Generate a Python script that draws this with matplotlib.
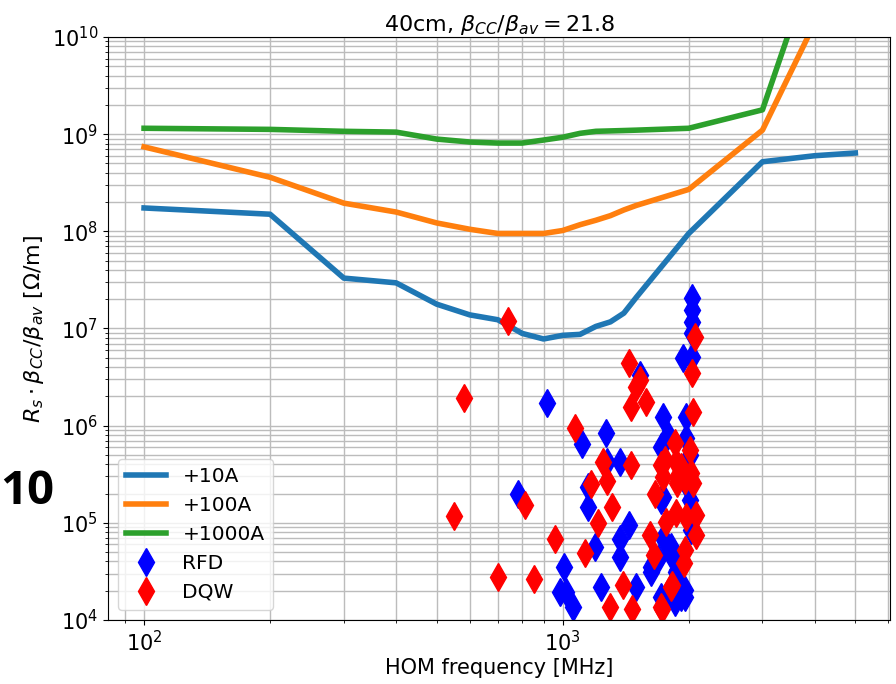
import matplotlib
matplotlib.use('Agg')
import matplotlib.pyplot as plt

# impedance thresholds vs HOM frequency
freq = [100, 200, 300, 400, 500, 600, 700, 800, 900, 1000, 1100, 1200, 1300, 1400, 1500, 2000, 3000, 4000, 5000]
lim_10A = [1.74e8, 1.5e8, 3.3e7, 2.95e7, 1.78e7, 1.38e7, 1.23e7, 8.9e6, 7.8e6, 8.5e6, 8.7e6, 1.05e7, 1.17e7, 1.44e7, 2.1e7,
           9.5e7, 5.2e8, 6.0e8, 6.4e8]
lim_100A = [7.4e8, 3.6e8, 1.95e8, 1.58e8, 1.22e8, 1.05e8, 9.5e7, 9.5e7, 9.5e7, 1.02e8, 1.17e8, 1.3e8, 1.45e8, 1.66e8, 1.85e8,
            2.7e8, 1.1e9, 1.4e10, 6e10]
lim_1000A = [1.15e9, 1.12e9, 1.07e9, 1.05e9, 8.9e8, 8.3e8, 8.1e8, 8.1e8, 8.7e8, 9.3e8, 1.02e9, 1.07e9, 1.08e9, 1.09e9, 1.1e9,
             1.15e9, 1.78e9, 6.6e10, 1e11]

# RFD modes
rfd_f = [916, 781, 1110, 1267, 1367, 1279, 1148, 1148, 1437, 1367, 1192, 1367, 1005, 984, 1016, 1056, 1233, 1494,
         1527, 1733, 1966, 1780, 1714, 1966, 2032, 2032, 2032, 2032, 1933, 2032, 2009, 1988, 2009, 1714, 1733, 1810,
         1850, 1623, 1880, 1880, 1955, 1714, 1913, 2009, 2020, 1800, 1860, 1733, 1623, 1850, 1955, 1690]
rfd_r = [1.72e6, 2.0e5, 6.4e5, 8.4e5, 4.2e5, 4.2e5, 2.34e5, 1.45e5, 9.5e4, 6.8e4, 5.6e4, 4.4e4, 3.5e4, 1.95e4, 1.95e4,
         1.35e4, 2.2e4, 2.2e4, 3.3e6, 1.23e6, 1.23e6, 8.0e5, 6.0e5, 7.5e5, 2.07e7, 1.55e7, 1.17e7, 9.0e6, 5.0e6, 5.1e6,
         5.0e5, 2.34e5, 1.72e5, 1.72e5, 7.0e4, 5.6e4, 4.4e4, 3.1e4, 3.3e4, 2.6e4, 2.05e4, 1.73e4, 1.73e4, 2.64e5,
         8.5e4, 4.9e4, 3.1e4, 1.85e5, 3.5e4, 1.54e4, 1.73e4, 4.2e4]

# DQW modes
dqw_f = [739, 580, 550, 700, 853, 811, 957, 1069, 1245, 1279, 1166, 1315, 1213, 1129, 1390, 1294, 1462, 1723,
         1437, 1527, 1494, 1578, 1452, 2066, 2032, 2043, 1452, 1658, 1614, 1649, 1761, 1860, 1966, 2076, 2076, 1955,
         1945, 1820, 1850, 2009, 1714, 1751, 1860, 1913, 1733, 1880, 2020, 1955, 2043, 1880, 1714, 1810]
dqw_r = [1.2e7, 1.93e6, 1.18e5, 2.8e4, 2.65e4, 1.53e5, 6.8e4, 9.5e5, 4.2e5, 2.7e5, 2.5e5, 1.45e5, 1.0e5, 4.9e4, 2.3e4,
         1.35e4, 1.29e4, 1.29e4, 4.4e6, 2.96e6, 2.5e6, 1.76e6, 1.56e6, 8.1e6, 3.5e6, 1.39e6, 3.95e5, 2.0e5, 7.5e4,
         4.7e4, 1.02e5, 1.27e5, 1.15e5, 1.21e5, 7.5e4, 5.3e4, 3.9e4, 2.3e4, 6.6e5, 5.6e5, 3.95e5, 4.45e5, 4.2e5,
         3.77e5, 2.97e5, 2.97e5, 3.27e5, 2.77e5, 2.58e5, 2.58e5, 1.35e4, 2.2e4]

plt.rcParams['font.size'] = 14

fig = plt.figure(figsize=(8.96, 6.84), dpi=100)
ax = fig.add_axes([0.1205, 0.0936, 0.8728, 0.8523])

ax.plot(freq, lim_10A, lw=4, label='+10A')
ax.plot(freq, lim_100A, lw=4, label='+100A')
ax.plot(freq, lim_1000A, lw=4, label='+1000A')
ax.plot(rfd_f, rfd_r, 'bd', ms=14, label='RFD')
ax.plot(dqw_f, dqw_r, 'rd', ms=14, label='DQW')

ax.set_xscale('log')
ax.set_yscale('log')
ax.set_xlim(82, 6050)
ax.set_ylim(1e4, 1e10)
ax.grid(True, which='both', color='#bcbcbc', lw=1)
ax.tick_params(labelsize=15)

ax.set_xlabel('HOM frequency [MHz]', fontsize=15, labelpad=2)
ax.set_ylabel(r'$R_s\cdot\beta_{CC}/\beta_{av}$ [$\Omega$/m]', fontsize=16)
ax.set_title(r'40cm, $\beta_{CC}/\beta_{av} = 21.8$', fontsize=16, pad=4)
ax.legend(loc='lower left', fontsize=14.5)

fig.text(0.0, 0.282, '10', ha='left', va='center', fontsize=34,
         fontweight='bold', family='Open Sans')

fig.savefig('out.png', dpi=100)
